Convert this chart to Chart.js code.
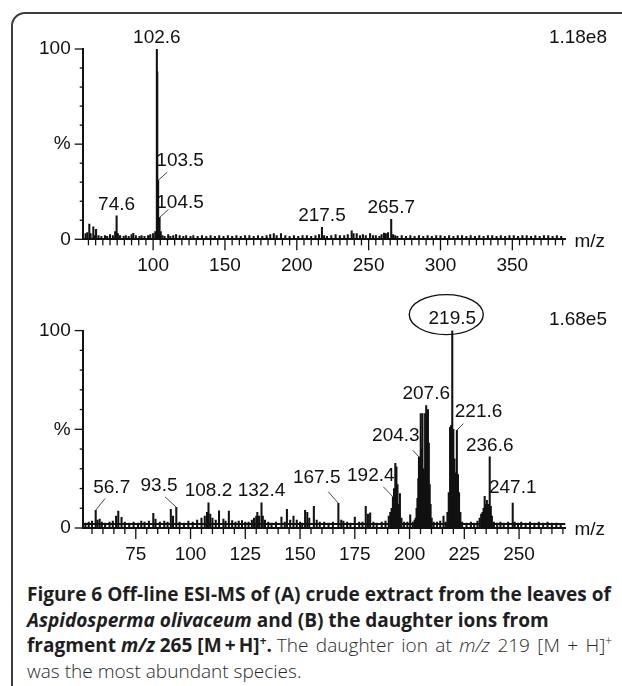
<!DOCTYPE html>
<html>
<head>
<meta charset="utf-8">
<script src="https://cdn.jsdelivr.net/npm/chart.js@4.4.1/dist/chart.umd.min.js"></script>
<style>
  html, body { margin: 0; padding: 0; background: #fff; }
  #wrap { position: relative; width: 622px; height: 686px; overflow: hidden; background: #fff; }
  #frame { position: absolute; left: 11px; top: 12px; width: 760px; height: 760px;
           border: 2px solid #3c3c3c; border-radius: 14px; box-sizing: border-box; }
  #cA { position: absolute; left: 0; top: 0; }
  #cB { position: absolute; left: 0; top: 285px; }
  #cap { position: absolute; left: 27px; top: 582px; font-family: "Open Sans", "Noto Sans", sans-serif;
         color: #1e1e1e; line-height: 25.5px; white-space: nowrap; font-size: 20px; }
  #cap b { font-weight: 700; }
  #cap .lt { font-weight: 300; color: #2a2a2a; }
  #cap sup { font-size: 0.62em; line-height: 0; vertical-align: 0.6em; }
</style>
</head>
<body>
<div id="wrap">
  <div id="frame"></div>
  <canvas id="cA" width="622" height="285"></canvas>
  <canvas id="cB" width="622" height="285"></canvas>
  <div id="cap">
    <div><b id="cap1">Figure 6 Off-line ESI-MS of (A) crude extract from the leaves of</b></div>
    <div><b><i>Aspidosperma olivaceum</i> and (B) the daughter ions from</b></div>
    <div><b>fragment <i>m/z</i> 265 [M&#8201;+&#8201;H]<sup>+</sup>.</b> <span class="lt" id="cap3lt">The daughter ion at <i>m/z</i> 219 [M + H]<sup>+</sup></span></div>
    <div class="lt">was the most abundant species.</div>
  </div>
</div>
<script>
// ---------------- DATA ----------------
// Panel A: crude extract, full scale 1.18e8
const xRangeA = [51, 387];
const mzA  = [53, 54.2, 55.6, 56.5, 58.4, 59.2, 60.3, 62, 64, 66.5, 68, 70, 72, 73.6, 74.6, 75.5, 77, 79.5, 81, 83, 85, 86.2, 88, 90.5, 92, 94, 96.5, 98, 100, 101.5,
              102.6, 102.9, 103.5, 104.5, 105.3, 106.5, 108, 110.5, 112, 114, 116, 118.5, 121, 123, 126, 128, 131, 134, 137, 140, 143, 146, 149, 152, 155, 158, 161, 164, 167, 170,
              173, 176, 179, 181.5, 184, 186, 189, 192, 195, 198, 201, 204, 207, 210, 213, 215.5, 217.5, 219, 221, 224, 227, 230, 233, 235.5, 238.2, 239.5, 241.7, 244, 246, 248,
              251, 253, 255, 257.5, 259, 260.7, 262, 263.5, 265.7, 267, 268.5, 270, 273, 276, 279, 282, 285, 288, 291, 294, 297, 300, 303, 306, 309, 312, 315, 318, 321, 324,
              327, 330, 333, 336, 339, 342, 345, 348, 351, 354, 357, 360, 363, 366, 369, 372, 375, 378, 381, 384];
const intA = [3, 3.5, 8, 3, 6.6, 2, 5.3, 2, 1.5, 2, 1.5, 2.5, 2, 4, 12.3, 3, 2, 1.5, 2, 1.5, 2.5, 3.2, 2, 1.5, 2, 1.5, 2, 2.5, 3, 4,
              100, 88, 31, 11.5, 4, 2, 1.5, 2.5, 1.5, 2, 2.5, 2, 1.5, 2, 1.5, 2, 1.5, 2, 1.5, 2, 1.5, 2, 1.5, 2, 1.5, 2, 1.5, 2, 2, 1.5,
              2, 1.5, 2, 2.5, 3, 2, 3, 2, 1.5, 2, 1.5, 2, 2, 1.5, 2, 2.5, 6.3, 2, 1.5, 2, 2.5, 2, 2, 2.5, 4.5, 3, 3, 2, 2.5, 2,
              3, 2, 2, 1.5, 2.5, 3.3, 3, 3.5, 10.5, 2.5, 2, 1.5, 2, 1.5, 2, 1.5, 2, 1.5, 2, 1.5, 2, 2, 1.5, 2, 1.5, 2, 2, 1.5, 2, 1.5,
              2, 1.5, 2, 2, 1.5, 2, 1.5, 2, 2, 1.5, 2, 2, 1.5, 2, 1.5, 2, 2, 1.5, 2, 1.5];
const labelMzA  = [74.6, 102.6, 103.5, 104.5, 217.5, 265.7];
const labelIntA = [12.3, 100, 31, 11.5, 6.3, 10.5];
const fullScaleA = '1.18e8';

// Panel B: daughter ions of m/z 265, full scale 1.68e5
const xRangeB = [50.76, 271.2];
const baselineB = 2;
const mzB  = [52, 53.5, 55, 56.7, 57.5, 58.5, 59.5, 61, 63, 64.5, 66, 67, 68.5, 70, 72, 74, 76, 77.5, 79, 81, 83, 84, 86, 88, 89.5, 91, 92, 93.5, 95, 97,
              99, 101, 103, 105, 106.5, 107.5, 108.2, 109, 110, 111.5, 113, 115, 116, 117.5, 119, 120.5, 122, 123.5, 125, 126.5, 128, 129, 130, 130.5, 131.3, 132.4, 133, 134, 135.5, 137,
              139, 141.5, 143, 144, 145.5, 147, 148.5, 150, 151, 152.3, 153.3, 154.2, 156.3, 157.6, 159, 161, 163, 165, 167.5, 168.8, 169.8, 171.5, 173, 175, 177, 178.5, 180, 181, 182, 183.5,
              185, 187.3, 189, 190.5, 191.2, 191.8, 192.4, 192.9, 193.5, 194, 194.5, 195, 195.6, 196.3, 197.5, 199, 200.3, 201.5, 202.3,
              202.8, 203.2, 203.6, 204.0, 204.3, 204.7, 205.1, 205.5, 205.9, 206.3, 206.7, 207.1, 207.6, 208.0, 208.4, 208.8, 209.2, 209.6, 210.1,
              211, 212.5, 214, 215.5, 216.5, 217.3, 217.9, 218.5, 219, 219.5, 220, 220.5, 221, 221.6, 222.1, 222.6, 223.2, 224, 226, 228, 229.5,
              231, 232, 232.7, 233.3, 233.8, 234.3, 234.8, 235.3, 235.8, 236.6, 237.1, 237.6, 238.5, 240, 241.5, 243, 245, 247.1, 248, 249.5,
              251, 253, 255, 257, 259, 261, 263, 265, 267, 269];
const intB = [2.5, 3, 3.5, 9, 4, 4.5, 3, 2.5, 3, 3.5, 6, 8.6, 5.4, 3, 2.5, 3, 2.5, 3.5, 3, 3.5, 7.4, 4.5, 3, 3.5, 3, 9.4, 6, 10.5, 3, 2.5,
              3.5, 3, 4, 5, 6, 8, 12.8, 7, 5, 4, 8.7, 4.5, 3.5, 8.6, 3.8, 3, 3.5, 3.8, 3, 3, 4, 5, 6, 8, 6, 12.8, 6, 4, 3, 2.5,
              3, 5.5, 3, 9.5, 4, 6, 4, 3, 2.5, 9, 8, 5, 11, 4, 3, 3, 2.5, 3, 12.5, 4, 3.5, 3, 2.5, 5.5, 3, 3, 11, 7, 7.7, 3,
              2.5, 3, 3.5, 6, 8, 10, 15.8, 20, 32.7, 31, 22, 12, 17.5, 5, 3, 3, 6.7, 3, 4,
              5, 10, 15, 25, 36, 32, 58, 40, 58, 30, 29, 58, 62, 45, 60, 43, 22, 12, 5,
              3, 3, 3.5, 6, 3, 8, 18, 51, 52, 100, 50, 35, 28, 49.5, 27, 18, 8, 3, 2.5, 3, 2.5,
              3.5, 5, 7, 8, 10, 16, 12, 14, 12, 36, 11, 6, 3, 2.5, 3, 2.5, 3, 12.6, 3, 2.5,
              3, 2.5, 3, 2.5, 3, 2.5, 3, 2.5, 2.5, 2];
const labelMzB  = [56.7, 93.5, 108.2, 132.4, 167.5, 192.4, 204.3, 207.6, 219.5, 221.6, 236.6, 247.1];
const labelIntB = [9, 10.5, 12.8, 12.8, 12.5, 15.8, 36, 62, 100, 49.5, 36, 12.6];
const fullScaleB = '1.68e5';

// ---------------- STYLE ----------------
const INK = '#111111';
const FONT = '19px "Liberation Sans", Arial, sans-serif';
Chart.defaults.font.family = '"Liberation Sans", Arial, sans-serif';
Chart.defaults.font.size = 19;
Chart.defaults.color = INK;

const placeA = {
  '103.5': { dx: 22, dy: -20, lx: 9, ly: -8 },
  '104.5': { dx: 20.5, dy: -15, lx: 9, ly: -8 }
};
const placeB = {
  '56.7':  { dx: 16,    dy: -22.7, lx: 9.3,  ly: -11.7 },
  '93.5':  { dx: -17.3, dy: -21.2, lx: -11.3, ly: -10.5 },
  '167.5': { dx: -21.7, dy: -25.3, lx: -10.1, ly: -11.6 },
  '192.4': { dx: -22.1, dy: -20.7, lx: -9.6, ly: -10 },
  '204.3': { dx: -23.1, dy: -20.7, lx: -6.2, ly: -6.7 },
  '221.6': { dx: 21.7,  dy: -18.3, lx: 6.5,  ly: -6.7 },
  '247.1': { dy: -15 },
  '219.5': { ellipse: { dx: -6, dy: -16, rx: 37, ry: 20 } }
};

const decor = {
  id: 'decor',
  afterDraw(chart, args, o) {
    const { ctx, chartArea: ca } = chart;
    const x = chart.scales.x, y = chart.scales.y;
    ctx.save();
    ctx.strokeStyle = INK; ctx.fillStyle = INK;
    const seg = (x1, y1, x2, y2) => { ctx.beginPath(); ctx.moveTo(x1, y1); ctx.lineTo(x2, y2); ctx.stroke(); };
    ctx.lineWidth = 1.3;
    for (let v = 0; v <= 100; v += 10) {
      const py = y.getPixelForValue(v);
      const len = (v % 50 === 0) ? 8 : 3;
      seg(ca.left - len, py, ca.left, py);
    }
    const first = Math.ceil(x.min / 5) * 5;
    for (let v = first; v <= x.max + 1e-6; v += 5) {
      const px = x.getPixelForValue(v);
      const len = (v % o.major === 0) ? 11 : 6;
      seg(px, ca.bottom, px, ca.bottom + len);
    }
    ctx.font = FONT;
    ctx.textBaseline = 'middle';
    ctx.textAlign = 'left';
    ctx.fillText('m/z', ca.right + 9, ca.bottom + 2);
    ctx.textAlign = 'right';
    ctx.fillText(o.fullScale, 607, o.fullScaleY);
    ctx.textAlign = 'center';
    o.labelMz.forEach((m, i) => {
      const px = x.getPixelForValue(m), py = y.getPixelForValue(o.labelInt[i]);
      const t = m.toFixed(1);
      const p = o.place[t] || {};
      if (p.lx !== undefined) {
        ctx.strokeStyle = '#4a4a4a'; ctx.lineWidth = 1;
        seg(px, py, px + p.lx, py + p.ly);
        ctx.fillText(t, px + p.dx, py + p.dy);
      } else {
        ctx.fillText(t, px, py + (p.dy !== undefined ? p.dy : -11.5));
      }
      if (p.ellipse) {
        const e = p.ellipse;
        ctx.strokeStyle = INK; ctx.lineWidth = 1.4;
        ctx.beginPath();
        ctx.ellipse(px + e.dx, py + e.dy, e.rx, e.ry, 0, 0, Math.PI * 2);
        ctx.stroke();
      }
    });
    ctx.restore();
  }
};

function build(id, mz, inten, range, major, plotTop, plotBottom, canvasH, decorOpts, extraSets) {
  const sets = [{
    type: 'bar',
    data: mz.map((m, i) => ({ x: m, y: inten[i] })),
    backgroundColor: INK,
    borderWidth: 0,
    barThickness: 1.4,
    grouped: false,
    order: 1
  }].concat(extraSets || []);
  return new Chart(document.getElementById(id), {
    type: 'bar',
    data: { datasets: sets },
    options: {
      responsive: false,
      animation: false,
      events: [],
      layout: { padding: { left: 0, top: plotTop, right: 622 - 565.5, bottom: 0 } },
      plugins: { legend: { display: false }, tooltip: { enabled: false }, decor: decorOpts },
      scales: {
        x: {
          type: 'linear', min: range[0], max: range[1], offset: false,
          grid: { display: false, drawTicks: false, tickLength: 0 },
          border: { display: true, width: 2, color: INK },
          ticks: {
            stepSize: major, includeBounds: false, autoSkip: false, maxRotation: 0, padding: 15,
            callback: v => (v % major === 0 ? String(v) : '')
          },
          afterFit: s => { s.height = canvasH - plotBottom; }
        },
        y: {
          min: 0, max: 100,
          grid: { display: false, drawTicks: false, tickLength: 0 },
          border: { display: true, width: 2, color: INK },
          ticks: {
            stepSize: 50, padding: 12,
            callback: v => (v === 100 ? '100' : v === 50 ? '%' : v === 0 ? '0' : '')
          },
          afterFit: s => { s.width = 82.7; }
        }
      }
    },
    plugins: [decor]
  });
}

build('cA', mzA, intA, xRangeA, 50, 49, 239.3, 285, {
  major: 50, fullScale: fullScaleA, fullScaleY: 38,
  labelMz: labelMzA, labelInt: labelIntA, place: placeA
});

build('cB', mzB, intB, xRangeB, 25, 45.6, 243, 285, {
  major: 25, fullScale: fullScaleB, fullScaleY: 35,
  labelMz: labelMzB, labelInt: labelIntB, place: placeB
}, [{
  type: 'line',
  data: [{ x: xRangeB[0], y: baselineB }, { x: xRangeB[1], y: baselineB }],
  borderColor: INK, borderWidth: 2, pointRadius: 0, order: 0
}]);

// fit caption to the reference line lengths
(function () {
  const cap = document.getElementById('cap');
  const l1 = document.getElementById('cap1');
  cap.style.fontSize = (20 * 584 / l1.getBoundingClientRect().width).toFixed(2) + 'px';
  const lt = document.getElementById('cap3lt');
  const left = cap.getBoundingClientRect().left;
  const extra = 585 - (lt.getBoundingClientRect().right - left);
  const gaps = (lt.textContent.match(/ /g) || []).length;
  if (extra > 0 && gaps > 0) lt.style.wordSpacing = (extra / gaps).toFixed(2) + 'px';
})();
</script>
</body>
</html>
